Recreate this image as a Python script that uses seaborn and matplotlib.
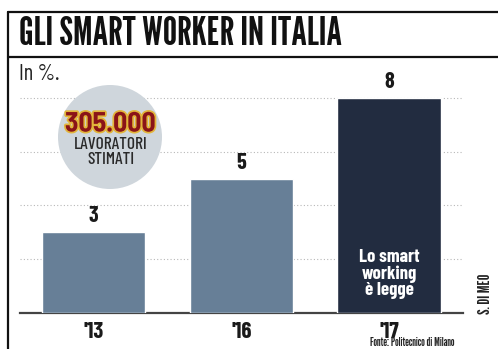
import matplotlib
matplotlib.use("Agg")
import matplotlib.pyplot as plt
import matplotlib.patheffects as pe
from matplotlib.patches import Circle
from matplotlib.lines import Line2D
import seaborn as sns
import pandas as pd

# Data
years = ["'13", "'16", "'17"]
shares = [3, 5, 8]
bar_colors = ["#677f97", "#677f97", "#222c40"]

title = "GLI SMART WORKER IN ITALIA"
unit_label = "In %."
badge_number = "305.000"
badge_text = "LAVORATORI\nSTIMATI"
bar_note = "Lo smart\nworking\nè legge"
source = "Fonte: Politecnico di Milano"
credit = "S. DI MEO"

sns.set_theme(style="white")
COND = ["Barlow Condensed", "DejaVu Sans"]
TALL = ["League Gothic", "Barlow Condensed", "DejaVu Sans"]
plt.rcParams["font.family"] = COND

W, H = 498, 349
fig = plt.figure(figsize=(W / 100, H / 100), dpi=100)
fig.patch.set_facecolor("white")

# axes placed so the baseline sits low and the bars fill the panel
ax = fig.add_axes([19.6 / W, 1 - 313 / H, 443.3 / W, 241.9 / H])
df = pd.DataFrame({"anno": years, "quota": shares})
sns.barplot(data=df, x="anno", y="quota", hue="anno", palette=bar_colors,
            width=0.7, legend=False, ax=ax, saturation=1, zorder=3)
ax.set_xlim(-0.5, 2.5)
ax.set_ylim(0, 9)
ax.set_yticks([2, 4, 6, 8])
ax.yaxis.grid(True, color="#b8b8b8", linestyle=(0, (1, 2)), linewidth=0.8, zorder=0)
ax.xaxis.grid(False)
ax.tick_params(axis="y", left=False, labelleft=False)
ax.tick_params(axis="x", bottom=False, pad=0.5)
ax.set_xlabel("")
ax.set_ylabel("")
for s in ["top", "right", "left"]:
    ax.spines[s].set_visible(False)
ax.spines["bottom"].set_color("#444444")
ax.spines["bottom"].set_linewidth(1.6)
ax.set_facecolor("none")
for lbl in ax.get_xticklabels():
    lbl.set_fontsize(16.5)
    lbl.set_fontweight("bold")
    lbl.set_color("#1a1a1a")

# value labels above each bar
for i, v in enumerate(shares):
    ax.text(i, v + 0.22, str(v), ha="center", va="bottom", fontsize=16,
            fontweight="bold", color="#1a1a1a")

# note inside the tallest bar
ax.text(2, 1.45, bar_note, ha="center", va="center", fontsize=13.5,
        fontweight="bold", color="white", linespacing=0.95, zorder=5)

# badge circle
circ = Circle((110, H - 137), 52, transform=None, facecolor="#cfd6dc",
              edgecolor="none", zorder=4)
fig.patches.append(circ)
fig.text(110 / W, 1 - 124 / H, badge_number, ha="center", va="center",
         fontsize=20, fontweight="bold", color="#8a1418", zorder=6,
         family=["Barlow Semi Condensed", "Barlow Condensed", "DejaVu Sans"],
         path_effects=[pe.withStroke(linewidth=2.5, foreground="#e2b53a")])
fig.text(111 / W, 1 - 152 / H, badge_text, ha="center", va="center",
         fontsize=12.5, fontweight="medium", color="#2a2a2a",
         linespacing=0.95, zorder=6)

# frame lines
fig.add_artist(Line2D([8 / W, 1], [1 - 12 / H] * 2, color="#111111", lw=1.6))
fig.add_artist(Line2D([8 / W, 1], [1 - 57 / H] * 2, color="#111111", lw=1.6))
fig.add_artist(Line2D([8 / W] * 2, [0, 1 - 12 / H], color="#111111", lw=1.6))

# header texts
fig.text(19 / W, 1 - 34 / H, title, ha="left", va="center", fontsize=29,
         color="#111111", family=TALL)
fig.text(19 / W, 1 - 75 / H, unit_label, ha="left", va="center", fontsize=16,
         color="#222222")
fig.text(412 / W, 1 - 348.5 / H, source, ha="center", va="bottom", fontsize=8.5,
         color="#222222", family=TALL)
fig.text(485 / W, 1 - 294 / H, credit, ha="center", va="center", fontsize=11.5,
         color="#222222", rotation=90, family=TALL)

fig.savefig("out.png", dpi=100)
